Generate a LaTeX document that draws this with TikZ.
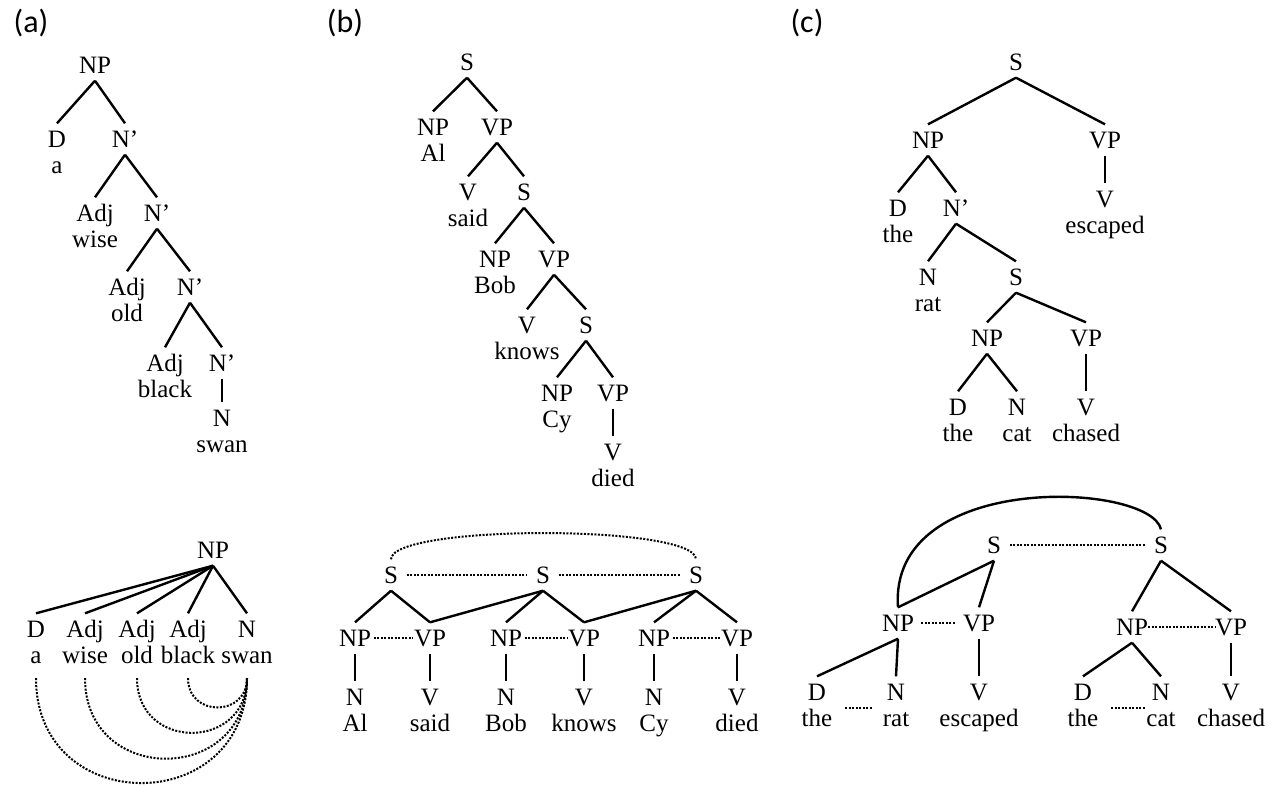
\documentclass[tikz,border=0pt]{standalone}
\usepackage{fontspec}
\setmainfont{Liberation Serif}
\newfontfamily\panelfont{Carlito}
\usetikzlibrary{calc}

\tikzset{
  cat/.style={inner sep=0pt, outer xsep=0pt, outer ysep=3.75pt, text height=8.2pt, text depth=0pt},
  word/.style={anchor=base, inner sep=0pt},
  branch/.style={line width=1.2pt},
  dots/.style={line width=1pt, dash pattern=on 1pt off 0.75pt},
  pairdots/.style={dots, shorten <=1.5pt, shorten >=0.5pt},
  sdots/.style={dots, shorten <=4.5pt, shorten >=4.5pt},
  panel/.style={font=\panelfont\fontsize{16}{19}\selectfont, inner sep=0pt}
}

\begin{document}
\begin{tikzpicture}[x=0.5pt, y=-0.5pt, every node/.style={font=\fontsize{12.5}{14}\selectfont}]
    \useasboundingbox (0,0) rectangle (1272,784);

    % Panel labels
    \node[panel] (pa) at (31,23) {(a)};
    \node[panel] (pb) at (345,23) {(b)};
    \node[panel] (pc) at (807,23) {(c)};

    % (a) nested N' tree
    \node[cat] (aNP) at (95,65) {NP};
    \node[cat] (aD) at (57,139) {D};
    \node[word] (aDw) at ([yshift=-13.15pt]aD.base) {a};
    \node[cat] (aN1) at (125,139) {N’};
    \node[cat] (aAdj1) at (95,213) {Adj};
    \node[word] (aAdj1w) at ([yshift=-13.15pt]aAdj1.base) {wise};
    \node[cat] (aN2) at (157,213) {N’};
    \node[cat] (aAdj2) at (127,287) {Adj};
    \node[word] (aAdj2w) at ([yshift=-13.15pt]aAdj2.base) {old};
    \node[cat] (aN3) at (190,287) {N’};
    \node[cat] (aAdj3) at (165,363) {Adj};
    \node[word] (aAdj3w) at ([yshift=-13.15pt]aAdj3.base) {black};
    \node[cat] (aN4) at (222,363) {N’};
    \node[cat] (aN) at (222,418) {N};
    \node[word] (aNw) at ([yshift=-13.15pt]aN.base) {swan};
    \draw[branch] (aNP.south) -- (aD.north);
    \draw[branch] (aNP.south) -- (aN1.north);
    \draw[branch] (aN1.south) -- (aAdj1.north);
    \draw[branch] (aN1.south) -- (aN2.north);
    \draw[branch] (aN2.south) -- (aAdj2.north);
    \draw[branch] (aN2.south) -- (aN3.north);
    \draw[branch] (aN3.south) -- (aAdj3.north);
    \draw[branch] (aN3.south) -- (aN4.north);
    \draw[branch] (aN4.south) -- (aN.north);

    % (a) flat tree
    \node[cat] (a2NP) at (213,550) {NP};
    \node[cat] (a2D) at (36,629) {D};
    \node[word] (a2Dw) at ([yshift=-13.15pt]a2D.base) {a};
    \node[cat] (a2Adj1) at (85,629) {Adj};
    \node[word] (a2Adj1w) at ([yshift=-13.15pt]a2Adj1.base) {wise};
    \node[cat] (a2Adj2) at (137,629) {Adj};
    \node[word] (a2Adj2w) at ([yshift=-13.15pt]a2Adj2.base) {old};
    \node[cat] (a2Adj3) at (188,629) {Adj};
    \node[word] (a2Adj3w) at ([yshift=-13.15pt]a2Adj3.base) {black};
    \node[cat] (a2N) at (247,629) {N};
    \node[word] (a2Nw) at ([yshift=-13.15pt]a2N.base) {swan};
    \draw[branch] (a2NP.south) -- (a2D.north);
    \draw[branch] (a2NP.south) -- (a2Adj1.north);
    \draw[branch] (a2NP.south) -- (a2Adj2.north);
    \draw[branch] (a2NP.south) -- (a2Adj3.north);
    \draw[branch] (a2NP.south) -- (a2N.north);
    % Dotted arcs to the head noun
    \draw[dots] ([yshift=-7pt]a2Dw.south) to[out=-90, in=-90, looseness=1.7] ([yshift=-7pt]a2Nw.south);
    \draw[dots] ([yshift=-7pt]a2Adj1w.south) to[out=-90, in=-90, looseness=1.7] ([yshift=-7pt]a2Nw.south);
    \draw[dots] ([yshift=-7pt]a2Adj2w.south) to[out=-90, in=-90, looseness=1.7] ([yshift=-7pt]a2Nw.south);
    \draw[dots] ([yshift=-7pt]a2Adj3w.south) to[out=-90, in=-90, looseness=1.7] ([yshift=-7pt]a2Nw.south);

    % (b) right-branching tree
    \node[cat] (bS1) at (467,62) {S};
    \node[cat] (bNP1) at (433,127) {NP};
    \node[word] (bNP1w) at ([yshift=-13.15pt]bNP1.base) {Al};
    \node[cat] (bVP1) at (497,127) {VP};
    \node[cat] (bV1) at (468,192) {V};
    \node[word] (bV1w) at ([yshift=-13.15pt]bV1.base) {said};
    \node[cat] (bS2) at (524,192) {S};
    \node[cat] (bNP2) at (495,259) {NP};
    \node[word] (bNP2w) at ([yshift=-13.15pt]bNP2.base) {Bob};
    \node[cat] (bVP2) at (554,259) {VP};
    \node[cat] (bV2) at (527,325) {V};
    \node[word] (bV2w) at ([yshift=-13.15pt]bV2.base) {knows};
    \node[cat] (bS3) at (586,325) {S};
    \node[cat] (bNP3) at (557,393) {NP};
    \node[word] (bNP3w) at ([yshift=-13.15pt]bNP3.base) {Cy};
    \node[cat] (bVP3) at (613,393) {VP};
    \node[cat] (bV3) at (613,452) {V};
    \node[word] (bV3w) at ([yshift=-13.15pt]bV3.base) {died};
    \draw[branch] (bS1.south) -- (bNP1.north);
    \draw[branch] (bS1.south) -- (bVP1.north);
    \draw[branch] (bVP1.south) -- (bV1.north);
    \draw[branch] (bVP1.south) -- (bS2.north);
    \draw[branch] (bS2.south) -- (bNP2.north);
    \draw[branch] (bS2.south) -- (bVP2.north);
    \draw[branch] (bVP2.south) -- (bV2.north);
    \draw[branch] (bVP2.south) -- (bS3.north);
    \draw[branch] (bS3.south) -- (bNP3.north);
    \draw[branch] (bS3.south) -- (bVP3.north);
    \draw[branch] (bVP3.south) -- (bV3.north);

    % (b) flat chain of clauses
    \node[cat] (b2S1) at (391,575) {S};
    \node[cat] (b2S2) at (543,575) {S};
    \node[cat] (b2S3) at (696,575) {S};
    \node[cat] (b2NP1) at (355,638) {NP};
    \node[cat] (b2VP1) at (430,638) {VP};
    \node[cat] (b2NP2) at (506,638) {NP};
    \node[cat] (b2VP2) at (584,638) {VP};
    \node[cat] (b2NP3) at (654,638) {NP};
    \node[cat] (b2VP3) at (737,638) {VP};
    \node[cat] (b2N1) at (355,697) {N};
    \node[word] (b2N1w) at ([yshift=-13.15pt]b2N1.base) {Al};
    \node[cat] (b2V1) at (430,697) {V};
    \node[word] (b2V1w) at ([yshift=-13.15pt]b2V1.base) {said};
    \node[cat] (b2N2) at (506,697) {N};
    \node[word] (b2N2w) at ([yshift=-13.15pt]b2N2.base) {Bob};
    \node[cat] (b2V2) at (584,697) {V};
    \node[word] (b2V2w) at ([yshift=-13.15pt]b2V2.base) {knows};
    \node[cat] (b2N3) at (654,697) {N};
    \node[word] (b2N3w) at ([yshift=-13.15pt]b2N3.base) {Cy};
    \node[cat] (b2V3) at (737,697) {V};
    \node[word] (b2V3w) at ([yshift=-13.15pt]b2V3.base) {died};
    \draw[branch] (b2S1.south) -- (b2NP1.north);
    \draw[branch] (b2S1.south) -- (b2VP1.north);
    \draw[branch] (b2S2.south) -- (b2VP1.north);
    \draw[branch] (b2S2.south) -- (b2NP2.north);
    \draw[branch] (b2S2.south) -- (b2VP2.north);
    \draw[branch] (b2S3.south) -- (b2VP2.north);
    \draw[branch] (b2S3.south) -- (b2NP3.north);
    \draw[branch] (b2S3.south) -- (b2VP3.north);
    \draw[branch] (b2NP1.south) -- (b2N1.north);
    \draw[branch] (b2VP1.south) -- (b2V1.north);
    \draw[branch] (b2NP2.south) -- (b2N2.north);
    \draw[branch] (b2VP2.south) -- (b2V2.north);
    \draw[branch] (b2NP3.south) -- (b2N3.north);
    \draw[branch] (b2VP3.south) -- (b2V3.north);
    % Dotted links
    \draw[sdots] (b2S1.east) -- (b2S2.west);
    \draw[sdots] (b2S2.east) -- (b2S3.west);
    \draw[pairdots] (b2NP1.east) -- (b2VP1.west);
    \draw[pairdots] (b2NP2.east) -- (b2VP2.west);
    \draw[pairdots] (b2NP3.east) -- (b2VP3.west);
    \draw[dots] (b2S1.north) .. controls +(0,-35) and +(0,-35) .. (b2S3.north);

    % (c) relative clause tree
    \node[cat] (cS1) at (1016,62) {S};
    \node[cat] (cNP1) at (928,140) {NP};
    \node[cat] (cVP1) at (1105,140) {VP};
    \node[cat] (cV1) at (1105,199) {V};
    \node[word] (cV1w) at ([yshift=-13.15pt]cV1.base) {escaped};
    \node[cat] (cD1) at (898,208) {D};
    \node[word] (cD1w) at ([yshift=-13.15pt]cD1.base) {the};
    \node[cat] (cNb) at (956,208) {N’};
    \node[cat] (cN1) at (928,277) {N};
    \node[word] (cN1w) at ([yshift=-13.15pt]cN1.base) {rat};
    \node[cat] (cS2) at (1016,277) {S};
    \node[cat] (cNP2) at (987,338) {NP};
    \node[cat] (cVP2) at (1086,338) {VP};
    \node[cat] (cD2) at (958,407) {D};
    \node[word] (cD2w) at ([yshift=-13.15pt]cD2.base) {the};
    \node[cat] (cN2) at (1017,407) {N};
    \node[word] (cN2w) at ([yshift=-13.15pt]cN2.base) {cat};
    \node[cat] (cV2) at (1086,407) {V};
    \node[word] (cV2w) at ([yshift=-13.15pt]cV2.base) {chased};
    \draw[branch] (cS1.south) -- (cNP1.north);
    \draw[branch] (cS1.south) -- (cVP1.north);
    \draw[branch] (cVP1.south) -- (cV1.north);
    \draw[branch] (cNP1.south) -- (cD1.north);
    \draw[branch] (cNP1.south) -- (cNb.north);
    \draw[branch] (cNb.south) -- (cN1.north);
    \draw[branch] (cNb.south) -- (cS2.north);
    \draw[branch] (cS2.south) -- (cNP2.north);
    \draw[branch] (cS2.south) -- (cVP2.north);
    \draw[branch] (cNP2.south) -- (cD2.north);
    \draw[branch] (cNP2.south) -- (cN2.north);
    \draw[branch] (cVP2.south) -- (cV2.north);

    % (c) two clauses side by side
    \node[cat] (c2S1) at (994,545) {S};
    \node[cat] (c2S2) at (1161,545) {S};
    \node[cat] (c2NP1) at (898,623) {NP};
    \node[cat] (c2VP1) at (979,623) {VP};
    \node[cat] (c2D1) at (817,692) {D};
    \node[word] (c2D1w) at ([yshift=-13.15pt]c2D1.base) {the};
    \node[cat] (c2N1) at (896,692) {N};
    \node[word] (c2N1w) at ([yshift=-13.15pt]c2N1.base) {rat};
    \node[cat] (c2V1) at (979,692) {V};
    \node[word] (c2V1w) at ([yshift=-13.15pt]c2V1.base) {escaped};
    \node[cat] (c2NP2) at (1132,627) {NP};
    \node[cat] (c2VP2) at (1231,627) {VP};
    \node[cat] (c2D2) at (1083,692) {D};
    \node[word] (c2D2w) at ([yshift=-13.15pt]c2D2.base) {the};
    \node[cat] (c2N2) at (1161,692) {N};
    \node[word] (c2N2w) at ([yshift=-13.15pt]c2N2.base) {cat};
    \node[cat] (c2V2) at (1231,692) {V};
    \node[word] (c2V2w) at ([yshift=-13.15pt]c2V2.base) {chased};
    \draw[branch] (c2S1.south) -- (c2NP1.north);
    \draw[branch] (c2S1.south) -- (c2VP1.north);
    \draw[branch] (c2NP1.south) -- (c2D1.north);
    \draw[branch] (c2NP1.south) -- (c2N1.north);
    \draw[branch] (c2VP1.south) -- (c2V1.north);
    \draw[branch] (c2S2.south) -- (c2NP2.north);
    \draw[branch] (c2S2.south) -- (c2VP2.north);
    \draw[branch] (c2NP2.south) -- (c2D2.north);
    \draw[branch] (c2NP2.south) -- (c2N2.north);
    \draw[branch] (c2VP2.south) -- (c2V2.north);
    \draw[branch] (c2NP1.north) .. controls (888,470) and (1150,482) .. (c2S2.north);
    % Dotted links
    \draw[sdots] (c2S1.east) -- (c2S2.west);
    \draw[dots, shorten <=3.75pt, shorten >=3.5pt] (c2NP1.east) -- (c2VP1.west);
    \draw[dots] (c2NP2.east) -- (c2VP2.west);
    \draw[dots, shorten <=14pt, shorten >=12pt] (c2D1.south) -- (c2N1.south);
    \draw[dots, shorten <=14pt, shorten >=7.5pt] (c2D2.south) -- (c2N2.south);
\end{tikzpicture}
\end{document}
